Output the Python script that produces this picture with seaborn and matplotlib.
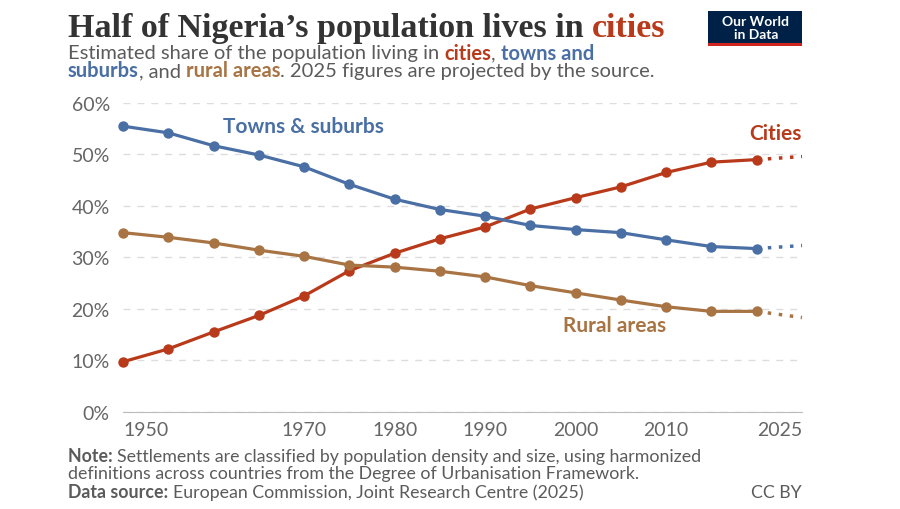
import pandas as pd, numpy as np
import seaborn as sns
import matplotlib.pyplot as plt
from matplotlib.patches import Rectangle

# Data (share of population, %)
years = [1950, 1955, 1960, 1965, 1970, 1975, 1980, 1985, 1990, 1995, 2000, 2005, 2010, 2015, 2020]
cities = [9.7, 12.2, 15.5, 18.7, 22.5, 27.4, 30.8, 33.6, 35.9, 39.4, 41.6, 43.7, 46.5, 48.5, 49.0]
towns = [55.5, 54.2, 51.7, 49.9, 47.6, 44.2, 41.3, 39.3, 38.0, 36.2, 35.4, 34.8, 33.4, 32.1, 31.7]
rural = [34.8, 33.9, 32.8, 31.4, 30.2, 28.5, 28.1, 27.3, 26.2, 24.5, 23.1, 21.7, 20.4, 19.5, 19.5]
# 2025 projections
proj_year = 2025
cities_2025 = 49.6
towns_2025 = 32.3
rural_2025 = 18.3

xticks = [1950, 1970, 1980, 1990, 2000, 2010, 2025]
yticks = [0, 10, 20, 30, 40, 50, 60]

red = "#b83a1b"
blue = "#4a6fa5"
brown = "#a87444"
grey = "#5b5b5b"
palette = {"Cities": red, "Towns & suburbs": blue, "Rural areas": brown}

df = pd.DataFrame({
    "year": years * 3,
    "share": cities + towns + rural,
    "area": ["Cities"] * len(years) + ["Towns & suburbs"] * len(years) + ["Rural areas"] * len(years),
})
proj = pd.DataFrame({
    "year": [years[-1], proj_year] * 3,
    "share": [cities[-1], cities_2025, towns[-1], towns_2025, rural[-1], rural_2025],
    "area": ["Cities"] * 2 + ["Towns & suburbs"] * 2 + ["Rural areas"] * 2,
})

sns.set_style("white")
plt.rcParams["font.family"] = ["Lato", "DejaVu Sans"]

W, H = 900, 510
fig = plt.figure(figsize=(9, 5.1), dpi=100)


def px(x, y):
    return x / W, 1 - y / H


ax = fig.add_axes([123 / W, 1 - 412.7 / H, 679 / W, 308.7 / H])

sns.lineplot(data=df, x="year", y="share", hue="area", palette=palette, ax=ax,
             marker="o", markersize=7.5, markeredgewidth=0, linewidth=2.3,
             legend=False, clip_on=False, zorder=3)
sns.lineplot(data=proj, x="year", y="share", hue="area", palette=palette, ax=ax,
             linestyle=(0, (1, 2.2)), linewidth=2.5, legend=False, clip_on=False, zorder=2)

ax.set_xlim(1950, 2025)
ax.set_ylim(0, 60)
ax.set_xticks(xticks)
ax.set_yticks(yticks)
ax.set_yticklabels([f"{v}%" for v in yticks])
ax.set_xlabel("")
ax.set_ylabel("")
ax.grid(axis="y", linestyle=(0, (5, 5)), color="#dddddd", linewidth=1)
ax.grid(axis="x", visible=False)
for s in ["top", "right", "left"]:
    ax.spines[s].set_visible(False)
ax.spines["bottom"].set_color("#bbbbbb")
ax.tick_params(axis="y", length=0, pad=9.5, labelsize=14, labelcolor="#666666")
ax.tick_params(axis="x", length=4, color="#bbbbbb", pad=3, labelsize=14, labelcolor="#666666")
xl = ax.get_xticklabels()
xl[0].set_ha("left")
xl[-1].set_ha("right")

# Series labels
ax.text(1969.9, 55.5, "Towns & suburbs", color=blue, fontsize=15, fontweight="bold",
        ha="center", va="center")
ax.text(2025, 54.2, "Cities", color=red, fontsize=15, fontweight="bold",
        ha="right", va="center")
ax.text(2004.3, 16.9, "Rural areas", color=brown, fontsize=15, fontweight="bold",
        ha="center", va="center")

renderer = fig.canvas.get_renderer()


def pieces(x0, y0, parts, size, family=None):
    x = x0
    for txt, col, wt in parts:
        t = fig.text(*px(x, y0), txt, color=col, fontsize=size, fontweight=wt, va="baseline")
        if family:
            t.set_family(family)
        bb = t.get_window_extent(renderer)
        x += bb.width


# Title
pieces(68, 37, [("Half of Nigeria\u2019s population lives in ", "#333333", "bold"),
                ("cities", red, "bold")], 24.5, ["Liberation Serif", "DejaVu Serif"])

pieces(68, 59.5, [("Estimated share of the population living in ", grey, "normal"),
                  ("cities", red, "bold"), (", ", grey, "normal"),
                  ("towns and", blue, "bold")], 14.5)
pieces(68, 77, [("suburbs", blue, "bold"), (", and ", grey, "normal"),
                ("rural areas", brown, "bold"),
                (". 2025 figures are projected by the source.", grey, "normal")], 14.5)

# Footer
pieces(68, 462, [("Note: ", grey, "bold"),
                 ("Settlements are classified by population density and size, using harmonized", grey, "normal")], 12.8)
pieces(68, 479, [("definitions across countries from the Degree of Urbanisation Framework.", grey, "normal")], 12.8)
pieces(68, 498, [("Data source: ", grey, "bold"),
                 ("European Commission, Joint Research Centre (2025)", grey, "normal")], 12.8)
fig.text(*px(802, 498), "CC BY", color=grey, fontsize=12.8, ha="right", va="baseline")

# Logo
fig.patches.append(Rectangle(px(708, 47), 94 / W, 35 / H, transform=fig.transFigure,
                             facecolor="#002147", edgecolor="none"))
fig.patches.append(Rectangle(px(708, 47), 94 / W, 3 / H, transform=fig.transFigure,
                             facecolor="#ce261e", edgecolor="none"))
fig.text(*px(756, 22), "Our World", color="white", fontsize=10, fontweight="bold",
         ha="center", va="center")
fig.text(*px(756, 35), "in Data", color="white", fontsize=10, fontweight="bold",
         ha="center", va="center")

fig.savefig("out.png", dpi=100)
